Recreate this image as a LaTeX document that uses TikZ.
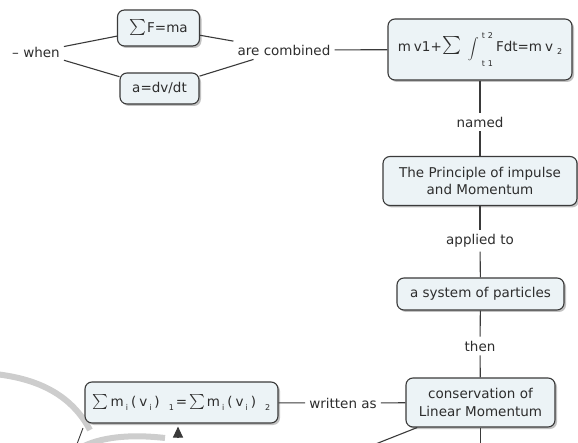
\documentclass[tikz,border=0pt]{standalone}
\usepackage{graphicx}
\usepackage{fontspec}
\setmainfont{DejaVu Sans}
\usetikzlibrary{shadows,arrows.meta}

\definecolor{boxfill}{RGB}{236,243,246}
\definecolor{boxline}{RGB}{58,58,58}
\definecolor{inkgray}{RGB}{45,45,45}
\definecolor{ring}{RGB}{205,205,205}

% small raised / lowered indices in the formulas
\newcommand\smallidx[1]{{\fontsize{8}{8}\selectfont #1}}
\newcommand\lowidx[1]{\raisebox{-3.5pt}{\smallidx{#1}}}
\newcommand\opsum[1]{\raisebox{-1pt}{\scalebox{#1}{$\sum$}}}
\newcommand\gap[1]{\hspace{#1pt}}

\tikzset{
  concept/.style={draw=boxline, line width=1.1pt, fill=boxfill, rounded corners=7pt,
    inner sep=0pt, align=center, text=inkgray,
    drop shadow={shadow xshift=2pt, shadow yshift=-2pt, fill=black!40, opacity=0.6}},
  linklabel/.style={inner sep=4pt, text=inkgray},
  link/.style={draw=boxline, line width=1.1pt},
}

\begin{document}
\begin{tikzpicture}[x=1pt, y=-1pt, font=\fontsize{13.5}{17.5}\selectfont]
\useasboundingbox (0,0) rectangle (578,443);
\clip (0,0) rectangle (578,443);

% light ring fragments in the lower left corner
\draw[ring, line width=6pt] (-5,374) .. controls (40,379) and (72,396) .. (90,430);
\draw[ring, line width=6pt] (80,448) .. controls (100,437) and (130,434) .. (165,438);

% concepts
\node[concept, minimum width=82pt, minimum height=36pt] (fma) at (158.5,28) {\opsum{1.6}\gap{1}F=ma};
\node[concept, minimum width=79pt, minimum height=31pt] (adv) at (159.5,88.5) {a=dv/dt};
\node[concept, minimum width=184pt, minimum height=61pt] (imp) at (480,49.5)
  {m\gap{3}v1+\gap{1}\opsum{1.8}\gap{6}\raisebox{-1pt}{\scalebox{1.1}[1.05]{$\displaystyle\int$}}\gap{3}\rlap{\raisebox{13pt}{\smallidx{t\gap{3}2}}}\raisebox{-15pt}{\smallidx{t\gap{3}1}}\gap{3}Fdt=m\gap{3}v\gap{4}\lowidx{2}};
\node[concept, minimum width=194pt, minimum height=49pt] (princ) at (480,181)
  {The Principle of impulse\\and Momentum};
\node[concept, minimum width=167pt, minimum height=32pt] (sys) at (480.5,294) {a system of particles};
\node[concept, minimum width=149pt, minimum height=49pt] (cons) at (480.5,402.5)
  {conservation of\\Linear Momentum};
\node[concept, minimum width=193pt, minimum height=41pt] (sumbox) at (181.5,402.5)
  {\opsum{1.5}\gap{2}m\gap{2}\lowidx{i}\gap{3}(\gap{3}v\gap{2}\lowidx{i}\gap{3})\gap{9}\lowidx{1}\gap{2}=\gap{2}\opsum{1.5}\gap{2}m\gap{2}\lowidx{i}\gap{3}(\gap{3}v\gap{2}\lowidx{i}\gap{3})\gap{9}\lowidx{2}};

% linking phrases
\node[linklabel] (when) at (36,52) {– when};
\node[linklabel] (comb) at (284,50) {are combined};
\node[linklabel] (named) at (480,122) {named};
\node[linklabel] (applied) at (480,241) {applied to};
\node[linklabel] (then) at (480,346) {then};
\node[linklabel] (written) at (343,403) {written as};

% free ends running out of the frame
\coordinate (outA) at (368,447);
\coordinate (outB) at (480.5,450);
\coordinate (outC) at (77,444);
\coordinate (dashtop) at (83,428);
\coordinate (arrfoot) at (178,438);

% connectors
\draw[link] (when) -- (fma);
\draw[link] (when) -- (adv);
\draw[link] (fma) -- (comb);
\draw[link] (adv) -- (comb);
\draw[link] (comb) -- (imp);
\draw[link] (imp) -- (named);
\draw[link] (named) -- (princ);
\draw[link] (princ) -- (applied);
\draw[link] (applied) -- (sys);
\draw[link] (sys) -- (then);
\draw[link] (then) -- (cons);
\draw[link] (cons) -- (written);
\draw[link] (written) -- (sumbox);
\draw[link] (cons) -- (outA);
\draw[link] (cons) -- (outB);
\draw[link, line width=0.9pt] (outC) -- (dashtop);
\draw[link, -{Triangle[length=11pt, width=10pt]}, shorten >=3pt] (arrfoot) -- (arrfoot |- sumbox.south);
\end{tikzpicture}
\end{document}
